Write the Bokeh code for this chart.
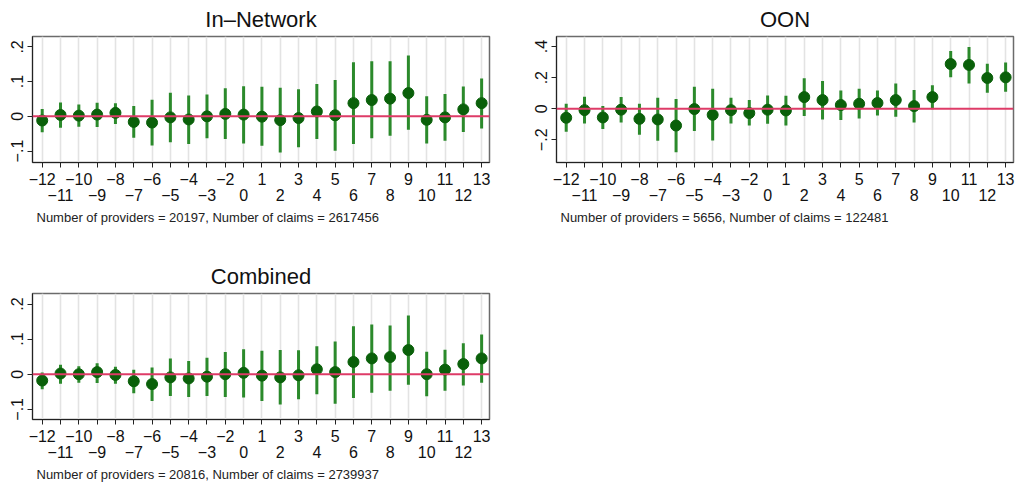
from bokeh.plotting import figure
from bokeh.layouts import column, row
from bokeh.models import (FixedTicker, LinearAxis, Span, Title, Range1d,
                          ColumnDataSource, Spacer)
from bokeh.embed import file_html
from bokeh.resources import INLINE

# ---------------- data ----------------
periods = [-12, -11, -10, -9, -8, -7, -6, -5, -4, -3, -2,
           0, 1, 2, 3, 4, 5, 6, 7, 8, 9, 10, 11, 12, 13]

innet_est = [-0.012, 0.004, 0.002, 0.005, 0.010, -0.016, -0.018, -0.003, -0.009, 0.000, 0.007,
             0.005, -0.001, -0.011, -0.005, 0.014, 0.003, 0.038, 0.047, 0.051, 0.067,
             -0.010, -0.003, 0.020, 0.038]
innet_hi = [0.021, 0.040, 0.034, 0.039, 0.038, 0.030, 0.048, 0.068, 0.060, 0.063, 0.081,
            0.087, 0.085, 0.082, 0.078, 0.093, 0.105, 0.156, 0.159, 0.159, 0.175,
            0.058, 0.064, 0.086, 0.109]
innet_lo = [-0.046, -0.033, -0.030, -0.031, -0.022, -0.062, -0.084, -0.075, -0.080, -0.063, -0.065,
            -0.078, -0.085, -0.104, -0.089, -0.065, -0.099, -0.080, -0.063, -0.056, -0.039,
            -0.078, -0.070, -0.045, -0.035]

oon_est = [-0.058, -0.009, -0.056, -0.006, -0.065, -0.069, -0.108, -0.002, -0.039, -0.009, -0.028,
           -0.006, -0.011, 0.075, 0.056, 0.024, 0.032, 0.037, 0.056, 0.017, 0.075,
           0.288, 0.282, 0.198, 0.202]
oon_hi = [0.032, 0.077, 0.017, 0.075, 0.032, 0.071, 0.062, 0.142, 0.129, 0.071, 0.056,
          0.086, 0.084, 0.196, 0.178, 0.118, 0.129, 0.118, 0.163, 0.120, 0.151,
          0.372, 0.398, 0.290, 0.297]
oon_lo = [-0.148, -0.095, -0.131, -0.088, -0.168, -0.206, -0.280, -0.144, -0.204, -0.095, -0.108,
          -0.097, -0.108, -0.047, -0.069, -0.073, -0.062, -0.043, -0.052, -0.088, -0.004,
          0.202, 0.163, 0.103, 0.110]

comb_est = [-0.018, 0.002, 0.000, 0.006, -0.002, -0.020, -0.028, -0.009, -0.012, -0.007, 0.000,
            0.004, -0.004, -0.009, -0.003, 0.014, 0.006, 0.035, 0.045, 0.049, 0.069,
            0.000, 0.013, 0.029, 0.045]
comb_hi = [0.005, 0.027, 0.023, 0.031, 0.021, 0.013, 0.019, 0.045, 0.038, 0.047, 0.063,
           0.071, 0.067, 0.069, 0.068, 0.080, 0.093, 0.137, 0.142, 0.139, 0.167,
           0.064, 0.070, 0.088, 0.113]
comb_lo = [-0.043, -0.027, -0.024, -0.025, -0.027, -0.054, -0.076, -0.062, -0.065, -0.062, -0.065,
           -0.066, -0.076, -0.086, -0.071, -0.057, -0.084, -0.068, -0.053, -0.047, -0.030,
           -0.063, -0.047, -0.032, -0.024]

titles = ["In\u2013Network", "OON", "Combined"]
notes = ["Number of providers = 20197, Number of claims = 2617456",
         "Number of providers = 5656, Number of claims = 122481",
         "Number of providers = 20816, Number of claims = 2739937"]
ytick_small = [-0.1, 0.0, 0.1, 0.2]
ytick_small_labels = ["\u2212.1", "0", ".1", ".2"]
ytick_big = [-0.2, 0.0, 0.2, 0.4]
ytick_big_labels = ["\u2212.2", "0", ".2", ".4"]

# ---------------- style ----------------
FONT = "Liberation Sans"
CI_COLOR = "#2b8a2b"
DOT_COLOR = "#0a600a"
ZERO_COLOR = "#de3b67"
GRID_COLOR = "#e3e3e3"
TICK_FS = "16px"


def fmt(v):
    return str(v).replace("-", "\u2212")


def panel(title, note, est, lo, hi, yrange, yticks, ylabels,
          border_left, border_right, border_top, border_bottom):
    idx = list(range(len(periods)))
    src = ColumnDataSource(dict(x=idx, est=est, lo=lo, hi=hi))
    p = figure(frame_width=457, frame_height=126,
               x_range=Range1d(-0.53, len(periods) - 1 + 0.43),
               y_range=Range1d(*yrange),
               output_backend="svg", toolbar_location=None,
               min_border_left=border_left, min_border_right=border_right,
               min_border_top=border_top, min_border_bottom=border_bottom,
               x_axis_location=None, y_axis_location="left")
    p.background_fill_color = "white"
    p.border_fill_color = "white"
    p.outline_line_color = "#6b6b6b"
    p.outline_line_width = 1.5

    # title
    p.title.text = title
    p.title.align = "center"
    p.title.text_font = FONT
    p.title.text_font_size = "22px"
    p.title.text_font_style = "normal"
    p.title.text_color = "#111111"
    p.title.standoff = 9

    # grid
    p.ygrid.visible = False
    p.xgrid.ticker = FixedTicker(ticks=idx)
    p.xgrid.grid_line_color = GRID_COLOR
    p.xgrid.grid_line_width = 1.6

    # y axis
    ya = p.yaxis[0]
    ya.ticker = FixedTicker(ticks=yticks)
    ya.major_label_overrides = {t: l for t, l in zip(yticks, ylabels)}
    ya.major_label_orientation = "vertical"
    ya.major_label_text_font = FONT
    ya.major_label_text_font_size = TICK_FS
    ya.major_label_text_color = "#111111"
    ya.major_tick_out = 5
    ya.major_tick_in = 0
    ya.minor_tick_line_color = None
    ya.axis_line_color = "#222222"
    ya.major_tick_line_color = "#222222"
    ya.major_label_standoff = 4

    # x axis: row 1 (all ticks, even labels), row 2 (odd labels)
    xa1 = LinearAxis(ticker=FixedTicker(ticks=idx))
    xa1.major_label_overrides = {i: (fmt(periods[i]) if i % 2 == 0 else " ") for i in idx}
    xa2 = LinearAxis(ticker=FixedTicker(ticks=[i for i in idx if i % 2 == 1]))
    xa2.major_label_overrides = {i: fmt(periods[i]) for i in idx if i % 2 == 1}
    for a in (xa1, xa2):
        a.major_label_text_font = FONT
        a.major_label_text_font_size = TICK_FS
        a.major_label_text_color = "#111111"
        a.minor_tick_line_color = None
    xa1.major_tick_out = 5
    xa1.major_tick_in = 0
    xa1.axis_line_color = "#222222"
    xa1.major_tick_line_color = "#222222"
    xa1.major_label_standoff = 3
    xa2.major_tick_out = 0
    xa2.major_tick_in = 0
    xa2.axis_line_color = None
    xa2.major_tick_line_color = None
    xa2.major_label_standoff = -2
    p.add_layout(xa1, "below")
    p.add_layout(xa2, "below")

    p.add_layout(Title(text=note, align="left", text_font=FONT,
                       text_font_size="13px", text_font_style="normal",
                       text_color="#222222", offset=4, standoff=9), "below")

    # zero line
    p.add_layout(Span(location=0, dimension="width", line_color=ZERO_COLOR,
                      line_width=2))

    # CIs and estimates
    p.segment(x0="x", y0="lo", x1="x", y1="hi", source=src,
              line_color=CI_COLOR, line_width=3)
    p.scatter(x="x", y="est", source=src, size=11,
              fill_color=DOT_COLOR, line_color=DOT_COLOR)
    return p


p1 = panel(titles[0], notes[0], innet_est, innet_lo, innet_hi, (-0.133, 0.23),
           ytick_small, ytick_small_labels, 32, 29, 36, 74)
p2 = panel(titles[1], notes[1], oon_est, oon_lo, oon_hi, (-0.346, 0.465),
           ytick_big, ytick_big_labels, 38, 2, 36, 74)
p3 = panel(titles[2], notes[2], comb_est, comb_lo, comb_hi, (-0.129, 0.23),
           ytick_small, ytick_small_labels, 32, 29, 57, 64)

layout = column(row(p1, p2), row(p3, Spacer(width=10, height=10)))
layout.spacing = 0

open("out.html", "w").write(file_html(layout, INLINE))
